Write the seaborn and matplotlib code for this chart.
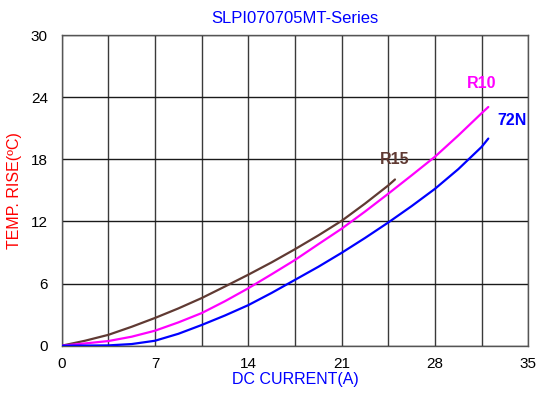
import numpy as np
import pandas as pd
import matplotlib
matplotlib.use("Agg")
import matplotlib.pyplot as plt
import seaborn as sns

# ---- data ----
r15_x = [0, 1.75, 3.5, 5.25, 7, 8.75, 10.5, 12.25, 14, 15.75, 17.5, 19.25, 21, 22.75, 24.5, 25]
r15_y = [0, 0.48, 1.05, 1.83, 2.68, 3.6, 4.6, 5.72, 6.86, 8.05, 9.32, 10.65, 12.06, 13.72, 15.48, 16.05]

r10_x = [0, 1.75, 3.5, 5.25, 7, 8.75, 10.5, 12.25, 14, 15.75, 17.5, 19.25, 21, 22.75, 24.5, 26.25, 28, 29.75, 31.5, 32]
r10_y = [0, 0.22, 0.45, 0.87, 1.45, 2.25, 3.15, 4.3, 5.55, 6.9, 8.28, 9.8, 11.3, 12.95, 14.68, 16.45, 18.25, 20.3, 22.45, 23.05]

n72_x = [0, 3.5, 5.25, 7, 8.75, 10.5, 12.25, 14, 15.75, 17.5, 19.25, 21, 22.75, 24.5, 26.25, 28, 29.75, 31.5, 32]
n72_y = [0, 0.03, 0.16, 0.48, 1.15, 2.0, 2.92, 3.92, 5.1, 6.36, 7.62, 8.97, 10.4, 11.9, 13.48, 15.15, 17.05, 19.2, 20.0]

series_names = ["R15", "R10", "72N"]
series_colors = ["#603A33", "#FF00FF", "#0000FF"]
label_pos_x = [25.0, 31.5, 33.8]
label_pos_y = [18.0, 25.3, 21.7]

x_ticks = [0, 7, 14, 21, 28, 35]
y_ticks = [0, 6, 12, 18, 24, 30]

title = "SLPI070705MT-Series"
x_label = "DC CURRENT(A)"
y_label = "TEMP. RISE(\u00baC)"

df = pd.concat([
    pd.DataFrame({"current": r15_x, "rise": r15_y, "series": "R15"}),
    pd.DataFrame({"current": r10_x, "rise": r10_y, "series": "R10"}),
    pd.DataFrame({"current": n72_x, "rise": n72_y, "series": "72N"}),
], ignore_index=True)

sns.set_theme(style="white")
plt.rcParams["font.family"] = ["Liberation Sans", "DejaVu Sans"]

fig = plt.figure(figsize=(5.37, 3.96), dpi=100)
ax = fig.add_axes([0.1149, 0.127, 0.8689, 0.7846])

# grid
for gx in np.arange(0, 35.01, 3.5):
    ax.axvline(gx, color="#3a3a3a", lw=1.0, zorder=1)
for gy in y_ticks:
    ax.axhline(gy, color="#1a1a1a", lw=1.0, zorder=1)

sns.lineplot(data=df, x="current", y="rise", hue="series",
             hue_order=series_names, palette=series_colors,
             linewidth=1.6, legend=False, ax=ax, zorder=3, sort=False)

for name, c, lx, ly in zip(series_names, series_colors, label_pos_x, label_pos_y):
    ax.text(lx, ly, name, color=c, fontsize=11.5, fontweight="bold",
            ha="center", va="center")

ax.set_xlim(0, 35)
ax.set_ylim(0, 30)
ax.set_xticks(x_ticks)
ax.set_yticks(y_ticks)
ax.tick_params(axis="both", length=0, labelsize=11, colors="#000000")
ax.tick_params(axis="x", pad=8)
ax.tick_params(axis="y", pad=10)
for s in ax.spines.values():
    s.set_color("#555555")
    s.set_linewidth(1.0)

ax.set_xlabel(x_label, color="#0000FF", fontsize=11.5, labelpad=1)
ax.set_ylabel(y_label, color="#FF0000", fontsize=11.5, labelpad=6)
ax.set_title(title, color="#0000FF", fontsize=12, pad=9)

fig.savefig("out.png", dpi=100)
